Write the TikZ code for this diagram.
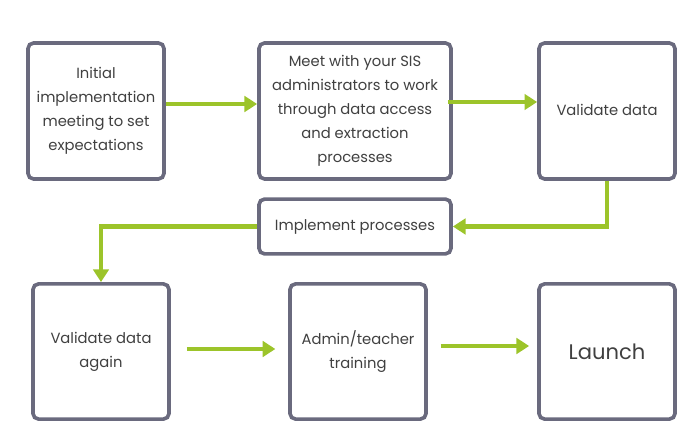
\documentclass[tikz,border=0pt]{standalone}
\usepackage{fontspec}
\setmainfont{Poppins}
\usepackage{xcolor}
\usepackage{tikz}
\usetikzlibrary{positioning, arrows.meta, calc}

\definecolor{boxline}{HTML}{6A6A7E}
\definecolor{flowgreen}{HTML}{9CC42A}
\definecolor{boxtext}{HTML}{404040}

\begin{document}
\begin{tikzpicture}[
    x=0.025cm, y=-0.025cm,
    box/.style={rectangle, draw=boxline, line width=2.6pt, rounded corners=4pt,
        align=center, text=boxtext, inner sep=2pt,
        font=\fontsize{10.5}{17}\selectfont},
    flow/.style={draw=flowgreen, line width=3pt,
        -{Triangle[length=9pt, width=11pt]}}
]
    \useasboundingbox (0,0) rectangle (700,445);
    \node[box, minimum width=3.4cm, minimum height=3.4cm] (init) at (96,111) {Initial\\implementation\\meeting to set\\expectations};
    \node[box, minimum width=4.8cm, minimum height=3.4cm] (meet) at (355,111) {Meet with your SIS\\administrators to work\\through data access\\and extraction\\processes};
    \node[box, minimum width=3.4cm, minimum height=3.4cm] (check) at (607,111) {\raisebox{2pt}{Validate data}};
    \node[box, minimum width=4.8cm, minimum height=1.37cm] (impl) at (355,226.5) {Implement processes};
    \node[box, minimum width=3.4cm, minimum height=3.38cm] (again) at (101,351.5) {Validate data\\again};
    \node[box, minimum width=3.4cm, minimum height=3.38cm] (train) at (358,351.5) {Admin/teacher\\training};
    \node[box, minimum width=3.4cm, minimum height=3.38cm, font=\fontsize{15}{18}\selectfont] (launch) at (607,351.5) {Launch};
    % arrow starts
    \coordinate (a1) at ($(init.east)+(0,-7)$);
    \coordinate (a2) at ($(meet.east)+(-5,-9)$);
    \coordinate (a5) at ($(again.east)+(0,-2.5)$);
    \coordinate (a6) at ($(train.east)+(0,-5.5)$);
    % top row
    \draw[flow] (a1) -- (a1 -| meet.west);
    \draw[flow] (a2) -- (a2 -| check.west);
    % turn back to the left
    \draw[flow] (check.south) |- (impl.east);
    \draw[flow] (impl.west) -| (again.north);
    % bottom row
    \draw[flow, shorten <=0.4cm, shorten >=0.32cm] (a5) -- (a5 -| train.west);
    \draw[flow, shorten <=0.32cm, shorten >=0.2cm] (a6) -- (a6 -| launch.west);
\end{tikzpicture}
\end{document}
